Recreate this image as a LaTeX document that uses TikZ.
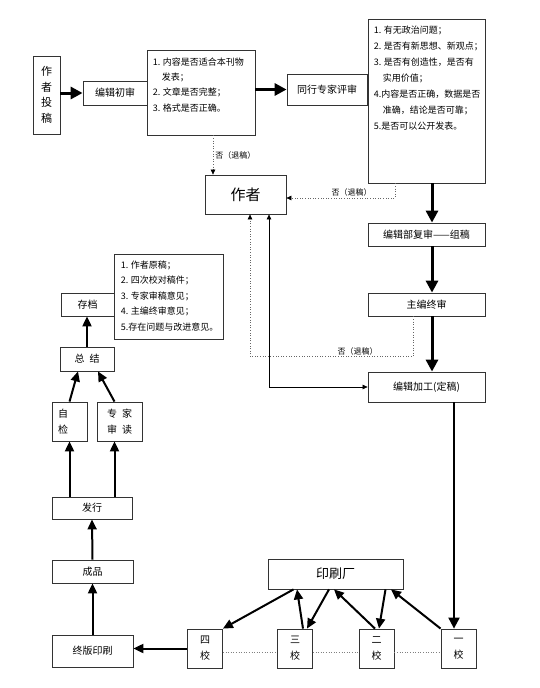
\documentclass[tikz,border=0pt]{standalone}
\usepackage{fontspec}
\newfontfamily\cjk{Noto Sans CJK SC}
\usepackage{tikz}
\usetikzlibrary{arrows.meta,positioning}
\tikzset{
  every picture/.style={line join=miter},
  box/.style={draw=black!80, line width=0.8pt, inner sep=0pt, align=center,
    font=\cjk\fontsize{10}{16}\selectfont},
  listtxt/.style={anchor=north west, inner sep=0pt, align=left,
    font=\cjk\fontsize{9}{15.6}\selectfont},
  lbl/.style={font=\cjk\fontsize{8}{10}\selectfont, inner sep=1pt, text=black},
  bigarrow/.style={line width=3pt, -{Triangle[length=12pt,width=12pt]}},
  midarrow/.style={line width=2pt, -{Triangle[length=10pt,width=9pt]}},
  thinarrow/.style={line width=0.6pt,
    {Triangle[length=5pt,width=4.5pt]}-{Triangle[length=5pt,width=4.5pt]}},
  backarrow/.style={black!60, line width=0.6pt, dotted,
    -{Triangle[length=5pt,width=4.5pt,black]}},
  dotline/.style={black!50, line width=0.6pt, dotted},
}

\begin{document}
\begin{tikzpicture}[x=1pt, y=-1pt]
\useasboundingbox[fill=white] (0,0) rectangle (540,688);
% review chain
\node[box, minimum width=27, minimum height=78, font=\cjk\fontsize{11}{15.5}\selectfont] (tougao) at (46.5,95) {作\\者\\投\\稿};
\node[box, minimum width=64, minimum height=24] (chushen) at (115,93) {编辑初审};
\node[box, minimum width=108, minimum height=85] (listA) at (201,92.5) {};
\node[listtxt, font=\cjk\fontsize{9}{15.3}\selectfont] (listAtxt) at ([shift={(6,7.7)}]listA.north west)
  {1. 内容是否适合本刊物\\\hspace*{1em}发表；\\2. 文章是否完整；\\3. 格式是否正确。};
\node[box, minimum width=80, minimum height=31] (pingshen) at (327,89.5) {同行专家评审};
\node[box, minimum width=117, minimum height=164] (listB) at (426.5,101) {};
\node[listtxt, font=\cjk\fontsize{9}{16}\selectfont] (listBtxt) at ([shift={(6,6.7)}]listB.north west)
  {1. 有无政治问题；\\2. 是否有新思想、新观点；\\3. 是否有创造性，是否有\\\hspace*{1em}实用价值；\\4.内容是否正确，数据是否\\\hspace*{1em}准确，结论是否可靠；\\5.是否可以公开发表。};
\node[box, minimum width=81, minimum height=39, font=\cjk\fontsize{15}{18}\selectfont] (author) at (245.5,194.5) {作者};
\node[box, minimum width=117, minimum height=23] (fushen) at (426.5,234.5) {编辑部复审——组稿};
\node[box, minimum width=117, minimum height=23] (zhongshen) at (426.5,304.5) {主编终审};
\node[box, minimum width=117, minimum height=30] (jiagong) at (426.5,387) {编辑加工(定稿)};
% archive column
\node[box, minimum width=53, minimum height=23] (cundang) at (87.5,304.5) {存档};
\node[box, minimum width=109, minimum height=85] (listC) at (168.5,296.5) {};
\node[listtxt] (listCtxt) at ([shift={(7,6.7)}]listC.north west)
  {1. 作者原稿；\\2. 四次校对稿件；\\3. 专家审稿意见；\\4. 主编终审意见；\\5.存在问题与改进意见。};
\node[box, minimum width=54, minimum height=24] (zongjie) at (87,359) {总\hspace{0.5em}结};
\node[box, minimum width=35, minimum height=39, text width=23, align=left] (zijian) at (69.5,421.5) {自\\检};
\node[box, minimum width=45, minimum height=39] (zhuanjia) at (119.5,421.5) {专\hspace{0.5em}家\\审\hspace{0.5em}读};
\node[box, minimum width=80, minimum height=22] (faxing) at (92,508) {发行};
\node[box, minimum width=81, minimum height=23] (chengpin) at (92.5,571.5) {成品};
\node[box, minimum width=81, minimum height=32] (zhongban) at (92.5,651) {终版印刷};
% proofs
\node[box, minimum width=135, minimum height=30, font=\cjk\fontsize{13}{16}\selectfont] (yinshua) at (335.5,574) {印刷厂};
\foreach \n/\c/\x in {4/四/205, 3/三/295, 2/二/376.5, 1/一/458.5}
  \node[box, minimum width=35, minimum height=39] (xiao\n) at (\x,648.5) {\c\\校};

\draw[bigarrow] (tougao.east |- chushen.west) -- (chushen.west);
\draw[bigarrow] (listA.east |- pingshen.west) -- (pingshen.west);
\draw[bigarrow] ([xshift=5.5pt]listB.south) -- ([xshift=5.5pt]fushen.north);
\draw[bigarrow] ([xshift=5.5pt]fushen.south) -- ([xshift=5.5pt]zhongshen.north);
\draw[bigarrow] ([xshift=5.5pt]zhongshen.south) -- ([xshift=5.5pt]jiagong.north);
\draw[midarrow, -{Triangle[length=11pt,width=11pt]}] ([xshift=27.5pt]jiagong.south) -- ([xshift=27.5pt]jiagong.south |- xiao1.north);

\draw[backarrow] ([xshift=12pt]listA.south) -- ([xshift=12pt]listA.south |- author.north)
  node[lbl, pos=0.5, right, xshift=1pt] {否（退稿）};
\draw[backarrow] ([xshift=-31.5pt]listB.south) |- ([yshift=-3.5pt]author.east)
  node[lbl, pos=0.7, above] {否（退稿）};
\draw[backarrow] ([xshift=-13.5pt]zhongshen.south) -- ++(0,40)
  -| node[lbl, pos=0.17, above] {否（退稿）} ([xshift=4.5pt]author.south);
\draw[thinarrow] ([xshift=23.5pt]author.south) |- (jiagong.west);

\draw[midarrow] (zhongban.north) -- (chengpin.south);
\draw[midarrow] (chengpin.north) -- (faxing.south);
\draw[midarrow] (zijian.south |- faxing.north) -- (zijian.south);
\draw[midarrow] ([xshift=-5pt]zhuanjia.south |- faxing.north) -- ([xshift=-5pt]zhuanjia.south);
\draw[midarrow] (zijian.north) -- ([xshift=-9pt]zongjie.south);
\draw[midarrow] ([xshift=-5pt]zhuanjia.north) -- ([xshift=11pt]zongjie.south);
\draw[midarrow] (zongjie.north) -- (zongjie.north |- cundang.south);
\draw[midarrow] (xiao4.west) -- (xiao4.west -| zhongban.east);

\draw[midarrow] ([xshift=-42pt]yinshua.south) -- (xiao4.north east);
\draw[midarrow] ([xshift=8pt]xiao3.north) -- ([xshift=-38.5pt]yinshua.south);
\draw[midarrow] ([xshift=-6.5pt]yinshua.south) -- ([xshift=12pt]xiao3.north);
\draw[midarrow] ([xshift=-1.5pt]xiao2.north) -- ([xshift=-1.5pt]yinshua.south);
\draw[midarrow] ([xshift=50pt]yinshua.south) -- ([xshift=2.5pt]xiao2.north);
\draw[midarrow] (xiao1.north west) -- ([xshift=55.5pt]yinshua.south);
\foreach \a/\b in {4/3, 3/2, 2/1}
  \draw[dotline] ([yshift=-3.5pt]xiao\a.east) -- ([yshift=-3.5pt]xiao\b.west);
\end{tikzpicture}
\end{document}
